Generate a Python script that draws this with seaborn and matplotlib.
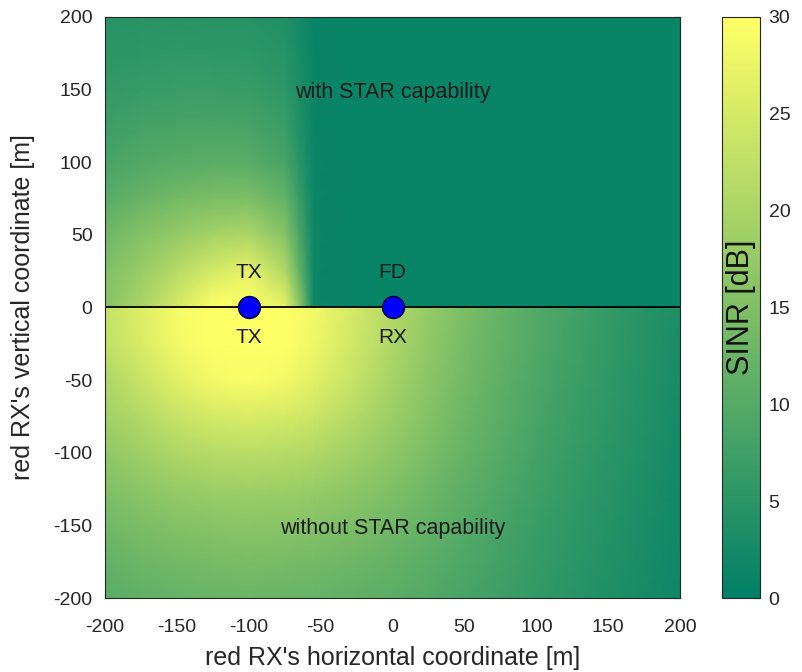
import numpy as np
import matplotlib
matplotlib.use("Agg")
import matplotlib.pyplot as plt
import seaborn as sns
import pandas as pd

# ---------------- data ----------------
x_cols = [-200, -175, -150, -125, -100, -75, -65, -55, -50, -25, 0, 25, 50, 75, 100, 125, 150, 175, 200]

# upper half: "with STAR capability" (rows y = 0 .. 200)
y_top = [0, 25, 50, 75, 100, 125, 150, 175, 200]
sinr_top = [
    [16.0, 20.0, 25.0, 30.0, 30.0, 27.0, 17.0, 2.0, 1.2, 1.0, 1.0, 1.0, 1.0, 1.0, 1.0, 1.0, 1.0, 1.0, 1.0],
    [15.0, 18.0, 21.5, 25.0, 27.0, 21.0, 12.0, 1.8, 1.2, 1.0, 1.0, 1.0, 1.0, 1.0, 1.0, 1.0, 1.0, 1.0, 1.0],
    [13.0, 15.5, 17.5, 19.5, 20.5, 16.0, 9.0, 1.7, 1.2, 1.0, 1.0, 1.0, 1.0, 1.0, 1.0, 1.0, 1.0, 1.0, 1.0],
    [10.5, 12.3, 13.7, 14.5, 14.7, 11.8, 6.8, 1.6, 1.2, 1.0, 1.0, 1.0, 1.0, 1.0, 1.0, 1.0, 1.0, 1.0, 1.0],
    [8.5, 9.5, 10.3, 10.7, 10.5, 8.5, 5.0, 1.5, 1.2, 1.0, 1.0, 1.0, 1.0, 1.0, 1.0, 1.0, 1.0, 1.0, 1.0],
    [7.2, 8.0, 8.5, 8.6, 8.4, 6.9, 4.0, 1.4, 1.1, 1.0, 1.0, 1.0, 1.0, 1.0, 1.0, 1.0, 1.0, 1.0, 1.0],
    [6.0, 6.5, 6.8, 6.8, 6.6, 5.5, 3.3, 1.3, 1.1, 1.0, 1.0, 1.0, 1.0, 1.0, 1.0, 1.0, 1.0, 1.0, 1.0],
    [5.2, 5.5, 5.7, 5.6, 5.4, 4.6, 2.9, 1.3, 1.1, 1.0, 1.0, 1.0, 1.0, 1.0, 1.0, 1.0, 1.0, 1.0, 1.0],
    [4.5, 4.7, 4.8, 4.7, 4.5, 3.8, 2.5, 1.2, 1.1, 1.0, 1.0, 1.0, 1.0, 1.0, 1.0, 1.0, 1.0, 1.0, 1.0],
]

# lower half: "without STAR capability" (rows y = -200 .. 0)
y_bot = [-200, -175, -150, -125, -100, -75, -50, -25, 0]
sinr_bot = [
    [10.5, 11.4, 12.0, 12.4, 12.6, 12.4, 12.3, 12.1, 12.0, 11.4, 10.7, 9.7, 8.5, 7.3, 6.0, 4.9, 3.8, 2.8, 1.8],
    [11.8, 12.8, 13.5, 14.0, 14.2, 14.0, 13.8, 13.6, 13.5, 12.8, 11.9, 10.7, 9.2, 7.9, 6.4, 5.2, 4.1, 3.0, 1.9],
    [13.3, 14.5, 15.4, 16.0, 16.2, 16.0, 15.8, 15.5, 15.4, 14.5, 13.3, 11.8, 10.1, 8.5, 6.9, 5.6, 4.4, 3.2, 2.1],
    [15.0, 16.5, 17.7, 18.5, 18.8, 18.5, 18.3, 18.0, 17.8, 16.6, 15.0, 13.1, 11.0, 9.2, 7.5, 6.0, 4.7, 3.5, 2.3],
    [17.0, 18.8, 20.5, 21.5, 22.0, 21.5, 21.2, 20.8, 20.5, 18.8, 16.8, 14.5, 12.0, 10.0, 8.1, 6.5, 5.1, 3.8, 2.5],
    [19.0, 21.0, 23.5, 25.0, 25.5, 25.0, 24.5, 24.0, 23.5, 21.0, 18.3, 15.5, 12.8, 10.6, 8.6, 6.9, 5.4, 4.0, 2.7],
    [20.5, 23.5, 26.5, 28.5, 29.5, 28.5, 27.5, 26.5, 26.0, 23.0, 19.5, 16.3, 13.5, 11.2, 9.1, 7.3, 5.7, 4.3, 2.9],
    [22.5, 25.5, 28.5, 30.0, 30.0, 30.0, 29.0, 28.0, 27.5, 24.0, 20.5, 17.0, 14.0, 11.7, 9.5, 7.7, 6.0, 4.5, 3.1],
    [23.0, 26.0, 29.0, 30.0, 30.0, 30.0, 29.5, 28.5, 28.0, 24.5, 21.0, 17.5, 14.5, 12.0, 9.8, 8.0, 6.3, 4.7, 3.3],
]

node_x = [-100, 0]
node_y = [0, 0]
labels_above = ["TX", "FD"]
labels_below = ["TX", "RX"]
cbar_ticks = [0, 5, 10, 15, 20, 25, 30]
axis_ticks = [-200, -150, -100, -50, 0, 50, 100, 150, 200]

# ---------------- style ----------------
sns.set_theme(style="ticks")
plt.rcParams["font.family"] = ["Liberation Sans", "DejaVu Sans"]
plt.rcParams["axes.unicode_minus"] = False
plt.rcParams["axes.edgecolor"] = "#262626"
plt.rcParams["xtick.color"] = "#262626"
plt.rcParams["ytick.color"] = "#262626"

fig = plt.figure(figsize=(8.02, 6.72), dpi=100)
ax = fig.add_axes([0.131, 0.110, 0.717, 0.865])
cax = fig.add_axes([0.900, 0.110, 0.048, 0.865])

cmap = "summer"
X, Y = np.meshgrid(x_cols, y_top)
mesh = ax.pcolormesh(X, Y, np.array(sinr_top), shading="gouraud", cmap=cmap, vmin=0, vmax=30)
X2, Y2 = np.meshgrid(x_cols, y_bot)
ax.pcolormesh(X2, Y2, np.array(sinr_bot), shading="gouraud", cmap=cmap, vmin=0, vmax=30)

# separating line
line_df = pd.DataFrame({"x": [axis_ticks[0], axis_ticks[-1]], "y": [0, 0]})
sns.lineplot(data=line_df, x="x", y="y", ax=ax, color="black", linewidth=1.3)

# nodes
nodes_df = pd.DataFrame({"x": node_x, "y": node_y})
sns.scatterplot(data=nodes_df, x="x", y="y", ax=ax, s=250, color="#0000ff",
                edgecolor="#000033", linewidth=1.0, zorder=5)

for xi, lab in zip(node_x, labels_above):
    ax.text(xi, 24, lab, ha="center", va="center", fontsize=15, color="#1a1a1a")
for xi, lab in zip(node_x, labels_below):
    ax.text(xi, -21, lab, ha="center", va="center", fontsize=15, color="#1a1a1a")

ax.text(0, 148, "with STAR capability", ha="center", va="center", fontsize=15.5, color="#1a1a1a")
ax.text(0, -152, "without STAR capability", ha="center", va="center", fontsize=15.5, color="#1a1a1a")

ax.set_xlim(-200, 200)
ax.set_ylim(-200, 200)
ax.set_xticks(axis_ticks)
ax.set_yticks(axis_ticks)
ax.tick_params(direction="in", top=True, right=True, labelsize=14, length=5, width=0.8)
ax.tick_params(axis="x", pad=15)
ax.tick_params(axis="y", pad=9)
ax.set_xlabel("red RX's horizontal coordinate [m]", fontsize=18, color="#262626", labelpad=7)
ax.set_ylabel("red RX's vertical coordinate [m]", fontsize=18, color="#262626", labelpad=13)
for sp in ax.spines.values():
    sp.set_visible(True)
    sp.set_linewidth(0.8)

cb = fig.colorbar(mesh, cax=cax, ticks=cbar_ticks)
cb.ax.tick_params(direction="in", labelsize=14, length=5, width=0.8, pad=6)
cb.outline.set_linewidth(0.8)
cax.text(0.5, 0.5, "SINR [dB]", rotation=90, ha="center", va="center",
         fontsize=22, color="#111111", transform=cax.transAxes)

fig.savefig("out.png", dpi=100)
